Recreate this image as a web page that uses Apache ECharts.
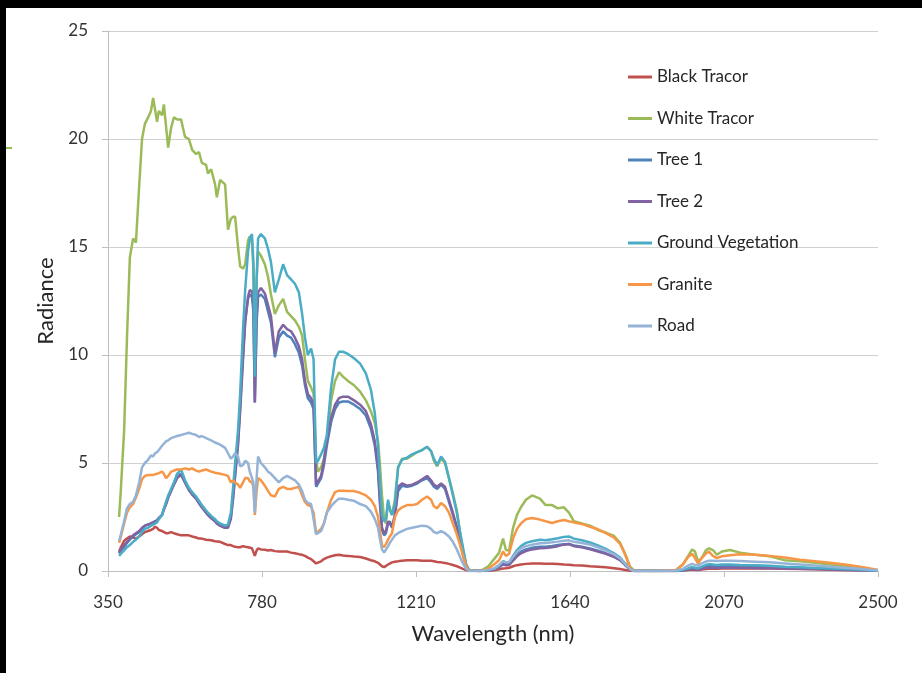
<!DOCTYPE html>
<html>
<head>
<meta charset="utf-8">
<script src="https://cdn.jsdelivr.net/npm/echarts@6.0.0/dist/echarts.min.js"></script>
<style>
html,body{margin:0;padding:0;background:#fff;}
#chart{width:922px;height:673px;}
</style>
</head>
<body>
<div id="chart"></div>
<script>
const wavelengths = [
381,386,395,403,411,420,428,437,445,453,
462,470,476,481,487,492,501,506,512,518,
526,534,543,554,565,576,585,596,604,612,
624,629,638,649,654,663,677,685,693,699,
705,713,719,727,733,741,746,752,756,760,
765,769,777,788,797,805,816,827,839,850,
861,872,883,892,900,908,917,924,931,936,
945,953,961,973,984,995,1006,1020,1037,1054,
1070,1084,1095,1104,1109,1115,1121,1126,1132,1137,
1143,1151,1160,1171,1185,1199,1213,1227,1241,1252,
1260,1269,1280,1291,1302,1313,1324,1333,1341,1350,
1358,1389,1411,1428,1442,1453,1461,1470,1481,1492,
1503,1517,1534,1556,1572,1590,1606,1623,1637,1651,
1673,1696,1718,1740,1763,1780,1794,1808,1819,1891,
1936,1955,1970,1981,1989,1997,2008,2019,2028,2039,
2050,2064,2087,2115,2157,2198,2240,2282,2324,2366,
2408,2450,2478,2500
];

const blackTracor = [
0.9,1.1,1.4,1.5,1.6,1.55,1.5,1.6,1.7,1.8,
1.85,1.9,1.95,2.05,2.0,1.9,1.85,1.8,1.75,1.75,
1.8,1.75,1.7,1.65,1.65,1.65,1.6,1.55,1.5,1.5,
1.45,1.45,1.42,1.38,1.35,1.35,1.25,1.2,1.2,1.15,
1.12,1.1,1.1,1.15,1.12,1.1,1.05,1.05,1.0,0.7,
0.95,1.05,1.0,0.98,0.95,0.97,0.92,0.9,0.9,0.9,
0.85,0.82,0.78,0.75,0.7,0.62,0.55,0.45,0.35,0.35,
0.45,0.55,0.62,0.68,0.73,0.75,0.72,0.7,0.67,0.65,
0.58,0.5,0.45,0.38,0.3,0.22,0.18,0.2,0.3,0.35,
0.4,0.43,0.45,0.48,0.5,0.5,0.5,0.48,0.48,0.47,
0.45,0.42,0.4,0.37,0.33,0.28,0.22,0.16,0.1,0.04,
0,0,0.01,0.03,0.08,0.12,0.13,0.15,0.22,0.27,
0.3,0.33,0.35,0.35,0.34,0.33,0.32,0.3,0.29,0.27,
0.25,0.22,0.2,0.17,0.13,0.09,0.05,0.01,0,0,
0,0.02,0.05,0.07,0.06,0.05,0.07,0.09,0.1,0.1,
0.1,0.11,0.12,0.12,0.12,0.11,0.1,0.09,0.08,0.06,
0.05,0.03,0.02,0.01
];

const whiteTracor = [
2.5,3.8,6.5,10.8,14.5,15.4,15.2,17.8,20.0,20.7,
21.0,21.3,21.9,21.4,20.8,21.3,21.1,21.6,20.6,19.6,
20.5,21.0,20.9,20.9,20.1,20.0,19.5,19.3,19.4,18.9,
18.8,18.4,18.6,17.9,17.3,18.1,17.9,15.8,16.3,16.4,
16.4,15.0,14.1,14.0,14.2,15.3,15.5,15.2,14.0,10.5,
13.5,14.8,14.6,14.2,13.6,12.8,11.9,12.3,12.6,12.0,
11.8,11.6,11.3,10.9,9.8,8.8,8.5,8.2,5.2,4.6,
4.8,5.2,6.0,7.9,8.8,9.2,9.0,8.8,8.6,8.3,
7.9,7.4,6.85,6.0,5.0,3.5,2.4,2.2,3.2,2.9,
2.6,3.3,4.8,5.2,5.2,5.35,5.5,5.6,5.75,5.55,
5.1,4.85,5.2,5.0,4.3,3.6,2.8,1.8,1.0,0.3,
0.05,0,0.2,0.55,0.85,1.5,0.97,0.95,2.0,2.6,
2.95,3.3,3.5,3.35,3.05,3.05,2.9,2.95,2.7,2.3,
2.2,2.1,1.9,1.78,1.62,1.3,0.8,0.2,0.02,0,
0.05,0.3,0.7,1.0,0.9,0.45,0.6,0.95,1.05,0.97,
0.75,0.9,0.97,0.85,0.75,0.68,0.5,0.45,0.38,0.3,
0.22,0.14,0.08,0.04
];

const tree1 = [
0.8,0.95,1.1,1.3,1.45,1.6,1.7,1.8,1.95,2.1,
2.15,2.2,2.25,2.3,2.35,2.45,2.6,2.85,3.1,3.4,
3.7,4.0,4.35,4.5,4.1,3.75,3.55,3.35,3.15,2.95,
2.7,2.6,2.45,2.3,2.2,2.1,2.0,2.05,2.5,3.4,
4.5,6.0,7.6,10.0,11.6,12.6,12.8,12.7,12.0,7.8,
11.5,12.7,12.8,12.6,12.0,11.5,9.9,10.8,11.1,10.9,
10.8,10.5,10.1,9.5,8.6,8.0,7.8,7.5,3.9,3.9,
4.3,4.9,5.8,6.9,7.5,7.8,7.85,7.85,7.7,7.5,
7.2,6.6,5.8,4.6,3.2,1.9,1.65,1.75,2.2,2.3,
2.0,2.5,3.7,3.95,3.9,3.95,4.05,4.2,4.3,4.1,
3.9,3.8,4.0,3.8,3.2,2.6,2.0,1.4,0.8,0.25,
0.02,0,0.04,0.08,0.2,0.35,0.3,0.32,0.55,0.75,
0.9,1.0,1.08,1.12,1.12,1.16,1.2,1.24,1.25,1.18,
1.12,1.04,0.94,0.82,0.66,0.5,0.28,0.08,0,0,
0,0.03,0.1,0.15,0.12,0.1,0.16,0.22,0.24,0.23,
0.22,0.23,0.23,0.22,0.21,0.19,0.16,0.14,0.12,0.1,
0.07,0.05,0.03,0.02
];

const tree2 = [
0.85,1.0,1.2,1.35,1.5,1.65,1.75,1.85,2.0,2.1,
2.15,2.2,2.25,2.3,2.35,2.45,2.6,2.85,3.1,3.4,
3.7,4.0,4.3,4.45,4.1,3.75,3.55,3.35,3.15,2.95,
2.7,2.6,2.45,2.3,2.2,2.1,2.0,2.0,2.4,3.3,
4.4,5.8,7.4,9.8,11.5,12.7,13.0,12.95,12.3,7.8,
11.8,12.9,13.1,12.85,12.3,11.8,10.1,11.1,11.4,11.2,
11.1,10.8,10.4,9.8,8.8,8.2,8.0,7.7,4.0,4.0,
4.4,5.1,6.05,7.1,7.7,8.0,8.07,8.07,7.9,7.7,
7.4,6.8,6.0,4.8,3.4,2.0,1.75,1.85,2.3,2.35,
2.05,2.6,3.9,4.05,3.95,4.0,4.1,4.25,4.4,4.2,
4.0,3.9,4.05,3.9,3.3,2.7,2.05,1.45,0.8,0.25,
0.02,0,0.03,0.07,0.18,0.3,0.26,0.28,0.48,0.68,
0.82,0.92,1.0,1.05,1.07,1.1,1.15,1.22,1.25,1.15,
1.1,1.0,0.9,0.8,0.65,0.5,0.28,0.08,0,0,
0,0.02,0.07,0.1,0.08,0.07,0.1,0.14,0.16,0.15,
0.14,0.15,0.15,0.15,0.14,0.13,0.12,0.1,0.09,0.07,
0.05,0.04,0.03,0.02
];

const groundVegetation = [
0.7,0.8,0.95,1.1,1.2,1.35,1.45,1.6,1.8,1.95,
2.0,2.1,2.15,2.2,2.25,2.4,2.6,2.9,3.2,3.5,
3.8,4.1,4.5,4.7,4.2,3.85,3.65,3.45,3.25,3.05,
2.8,2.7,2.55,2.4,2.3,2.2,2.1,2.15,2.7,3.8,
5.0,6.5,8.2,11.2,13.0,14.8,15.4,15.6,14.3,9.0,
13.5,15.4,15.6,15.4,14.9,14.3,12.9,13.5,14.2,13.7,
13.5,13.3,12.9,11.9,10.8,10.0,10.3,9.8,5.0,5.1,
5.4,5.7,6.3,8.5,9.8,10.15,10.15,10.05,9.85,9.6,
9.15,8.4,7.3,5.8,4.2,2.6,2.3,2.4,3.3,2.8,
2.6,3.1,4.8,5.15,5.25,5.4,5.5,5.6,5.75,5.55,
5.2,4.9,5.3,5.05,4.3,3.5,2.7,1.8,1.1,0.3,
0.03,0,0.05,0.1,0.25,0.45,0.4,0.4,0.7,0.97,
1.15,1.3,1.38,1.45,1.42,1.47,1.52,1.58,1.6,1.5,
1.42,1.32,1.18,1.02,0.82,0.62,0.35,0.1,0,0,
0,0.05,0.12,0.18,0.15,0.12,0.2,0.28,0.32,0.3,
0.28,0.3,0.3,0.28,0.27,0.24,0.2,0.17,0.14,0.12,
0.09,0.06,0.04,0.02
];

const granite = [
1.3,1.6,2.2,2.7,2.95,3.1,3.4,3.8,4.25,4.4,
4.45,4.45,4.45,4.45,4.5,4.55,4.6,4.5,4.3,4.4,
4.6,4.65,4.7,4.7,4.75,4.7,4.75,4.65,4.6,4.65,
4.7,4.65,4.6,4.55,4.5,4.5,4.45,4.4,4.1,4.2,
4.1,4.0,3.85,4.1,4.3,4.3,4.15,4.1,3.9,2.6,
3.7,4.3,4.2,3.95,3.7,3.5,3.45,3.8,3.9,3.8,
3.8,3.85,3.9,3.5,3.2,3.05,3.0,2.7,1.75,1.8,
1.95,2.2,2.7,3.3,3.65,3.72,3.72,3.7,3.7,3.62,
3.5,3.3,3.0,2.5,1.9,1.2,1.1,1.25,1.45,1.6,
1.75,2.5,2.8,2.95,3.05,3.05,3.1,3.3,3.45,3.3,
3.0,2.9,3.15,3.0,2.7,2.2,1.7,1.2,0.7,0.2,
0.02,0,0.1,0.3,0.5,0.9,0.7,0.8,1.5,1.95,
2.2,2.4,2.45,2.38,2.3,2.22,2.3,2.36,2.3,2.25,
2.18,2.05,1.93,1.75,1.55,1.25,0.75,0.12,0,0,
0.05,0.3,0.65,0.8,0.6,0.35,0.6,0.8,0.9,0.7,
0.6,0.68,0.73,0.78,0.75,0.7,0.63,0.52,0.45,0.38,
0.3,0.2,0.12,0.05
];

const road = [
1.4,1.7,2.3,2.9,3.1,3.2,3.5,4.1,4.8,5.0,
5.15,5.35,5.3,5.45,5.5,5.6,5.8,5.85,6.0,6.05,
6.15,6.2,6.25,6.3,6.35,6.4,6.35,6.3,6.2,6.25,
6.15,6.1,6.05,5.95,5.9,5.85,5.7,5.45,5.2,5.3,
5.45,5.3,4.85,4.9,5.1,5.0,4.6,4.3,4.1,2.7,
4.3,5.3,5.0,4.8,4.6,4.5,4.3,4.1,4.3,4.4,
4.3,4.2,4.0,3.7,3.3,3.15,3.1,2.4,1.7,1.7,
1.85,2.2,2.7,3.0,3.2,3.35,3.35,3.3,3.25,3.1,
3.0,2.75,2.4,2.0,1.5,1.0,0.85,0.9,1.15,1.3,
1.45,1.65,1.75,1.85,1.95,2.0,2.05,2.1,2.07,1.95,
1.8,1.75,1.85,1.75,1.6,1.35,1.0,0.65,0.35,0.1,
0,0,0.05,0.12,0.28,0.45,0.4,0.42,0.65,0.88,
1.05,1.15,1.22,1.28,1.3,1.33,1.36,1.4,1.42,1.35,
1.3,1.22,1.1,0.95,0.77,0.58,0.32,0.08,0,0,
0.02,0.1,0.25,0.33,0.28,0.25,0.35,0.43,0.48,0.47,
0.46,0.47,0.48,0.46,0.43,0.4,0.35,0.3,0.25,0.2,
0.15,0.1,0.06,0.03
];

const seriesNames = ['Black Tracor','White Tracor','Tree 1','Tree 2','Ground Vegetation','Granite','Road'];
const seriesValues = [blackTracor, whiteTracor, tree1, tree2, groundVegetation, granite, road];
const seriesColors = ['#C0504D','#9BBB59','#4F81BD','#8064A2','#4BACC6','#F79646','#95B3D7'];
const xTickValues = [350, 780, 1210, 1640, 2070, 2500];

const FONT = 'Lato';
const chart = echarts.init(document.getElementById('chart'), null, {renderer: 'canvas'});

const series = seriesNames.map((name, i) => ({
  name: name,
  type: 'line',
  showSymbol: false,
  symbol: 'none',
  animation: false,
  data: wavelengths.map((w, j) => [w, seriesValues[i][j]]),
  lineStyle: {width: 2.5, color: seriesColors[i]},
  itemStyle: {color: seriesColors[i]}
}));

chart.setOption({
  animation: false,
  backgroundColor: '#ffffff',
  grid: {left: 108, right: 44, top: 31, bottom: 102, containLabel: false},
  legend: {
    orient: 'vertical',
    left: 623,
    top: 62,
    icon: 'rect',
    itemWidth: 24,
    itemHeight: 3,
    itemGap: 21.5,
    textStyle: {fontFamily: FONT, fontSize: 17, color: '#262626', lineHeight: 20},
    data: seriesNames
  },
  xAxis: {
    type: 'value',
    min: 350,
    max: 2500,
    name: 'Wavelength (nm)',
    nameLocation: 'middle',
    nameGap: 52,
    nameTextStyle: {fontFamily: FONT, fontSize: 22, color: '#262626'},
    axisLine: {show: true, lineStyle: {color: '#bfbfbf', width: 1}},
    axisTick: {show: true, length: 6, lineStyle: {color: '#bfbfbf'}, customValues: xTickValues},
    axisLabel: {fontFamily: FONT, fontSize: 17, color: '#333333', margin: 23, customValues: xTickValues,
      formatter: v => String(v)},
    splitLine: {show: false}
  },
  yAxis: {
    type: 'value',
    min: 0,
    max: 25,
    interval: 5,
    name: 'Radiance',
    nameLocation: 'middle',
    nameGap: 50,
    nameTextStyle: {fontFamily: FONT, fontSize: 22, color: '#262626'},
    axisLine: {show: true, lineStyle: {color: '#bfbfbf', width: 1}},
    axisTick: {show: true, length: 6, lineStyle: {color: '#bfbfbf'}},
    axisLabel: {fontFamily: FONT, fontSize: 17, color: '#333333', margin: 20},
    splitLine: {show: true, lineStyle: {color: '#d0d0d0', width: 1}}
  },
  graphic: [
    {type: 'rect', shape: {x: 0, y: 0, width: 922, height: 8}, style: {fill: '#000'}, z: 100},
    {type: 'rect', shape: {x: 0, y: 0, width: 6, height: 673}, style: {fill: '#000'}, z: 100},
    {type: 'line', shape: {x1: 6, y1: 148, x2: 12, y2: 148}, style: {stroke: '#9BBB59', lineWidth: 2}, z: 100}
  ],
  series: series
});
</script>
</body>
</html>
